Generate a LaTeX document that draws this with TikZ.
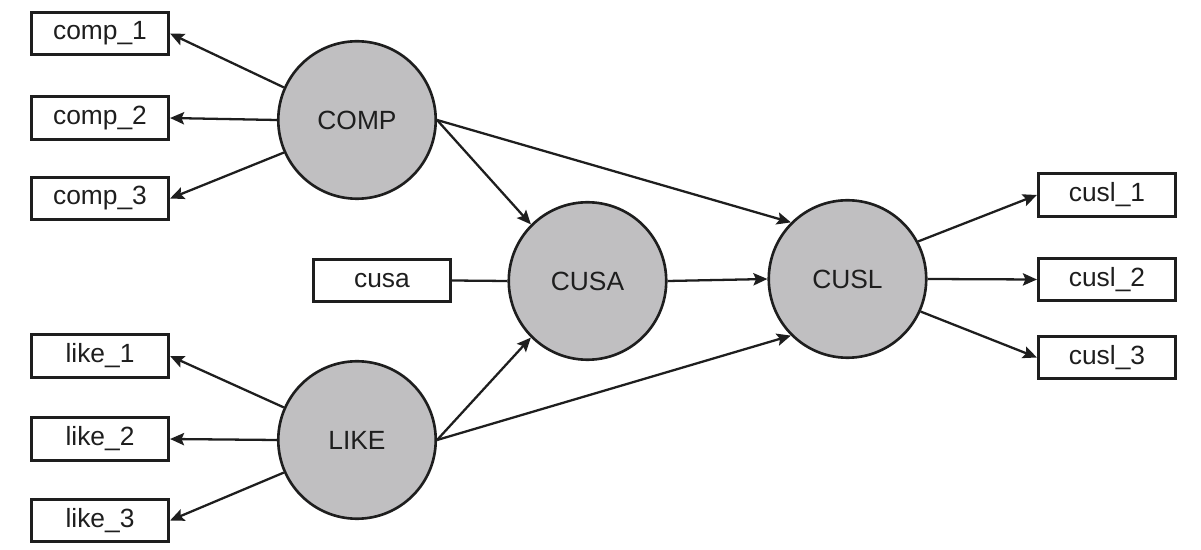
\documentclass[tikz,border=0pt]{standalone}
\usepackage{fontspec}
\setmainfont{Liberation Sans}
\usepackage{xcolor}
\usetikzlibrary{positioning}
\usetikzlibrary{arrows.meta}
\definecolor{latentgray}{RGB}{192,191,193}
\definecolor{ink}{RGB}{30,30,30}
\tikzstyle{construct}=[circle, fill=latentgray, draw=ink, line width=1.5pt, minimum size=3.15cm, inner sep=0pt, font=\fontsize{15}{18}\selectfont, text=ink]
\tikzstyle{indicator}=[rectangle, draw=ink, line width=1.5pt, minimum width=2.75cm, minimum height=0.85cm, inner sep=0pt, font=\fontsize{15}{18}\selectfont, text=ink]
\tikzstyle{load}=[-{Stealth[length=8pt, width=7pt, inset=1.5pt]}, draw=ink, line width=1.3pt]

\begin{document}
\begin{tikzpicture}[x=0.02cm, y=-0.02cm]
    \useasboundingbox (0,0) rectangle (1201,550);

    \node[construct]  (comp)  at (357,120)   {COMP};
    \node[construct]  (like)  at (357,440)   {LIKE};
    \node[construct]  (cusa)  at (587.5,281) {CUSA};
    \node[construct]  (cusl)  at (847.5,279) {CUSL};

    \node[indicator]  (comp1) at (100,33.5)   {comp\_1};
    \node[indicator]  (comp2) at (100,118)    {comp\_2};
    \node[indicator]  (comp3) at (100,198.5)  {comp\_3};
    \node[indicator]  (like1) at (100,356)    {like\_1};
    \node[indicator]  (like2) at (100,439)    {like\_2};
    \node[indicator]  (like3) at (100,520.5)  {like\_3};
    \node[indicator]  (cusa1) at (382,280.5)  {cusa};
    \node[indicator]  (cusl1) at (1107,195)   {cusl\_1};
    \node[indicator]  (cusl2) at (1107,279.5) {cusl\_2};
    \node[indicator]  (cusl3) at (1107,357.5) {cusl\_3};

    \draw[load] (comp.156) -- (comp1.east);
    \draw[load] (comp.west) -- (comp2.east);
    \draw[load] (comp.204) -- (comp3.east);
    \draw[load] (like.156) -- (like1.east);
    \draw[load] (like.west) -- (like2.east);
    \draw[load] (like.204) -- (like3.east);
    \draw[draw=ink, line width=1.3pt] (cusa1.east) -- (cusa.west);
    \draw[load] (cusl.28) -- (cusl1.west);
    \draw[load] (cusl.east) -- (cusl2.west);
    \draw[load] (cusl.-24) -- (cusl3.west);

    \draw[load] (comp.east) -- (cusa.135);
    \draw[load] (comp.east) -- (cusl.135);
    \draw[load] (like.east) -- (cusa.225);
    \draw[load] (like.east) -- (cusl.225);
    \draw[load] (cusa.east) -- (cusl.west);
  \end{tikzpicture}
\end{document}
